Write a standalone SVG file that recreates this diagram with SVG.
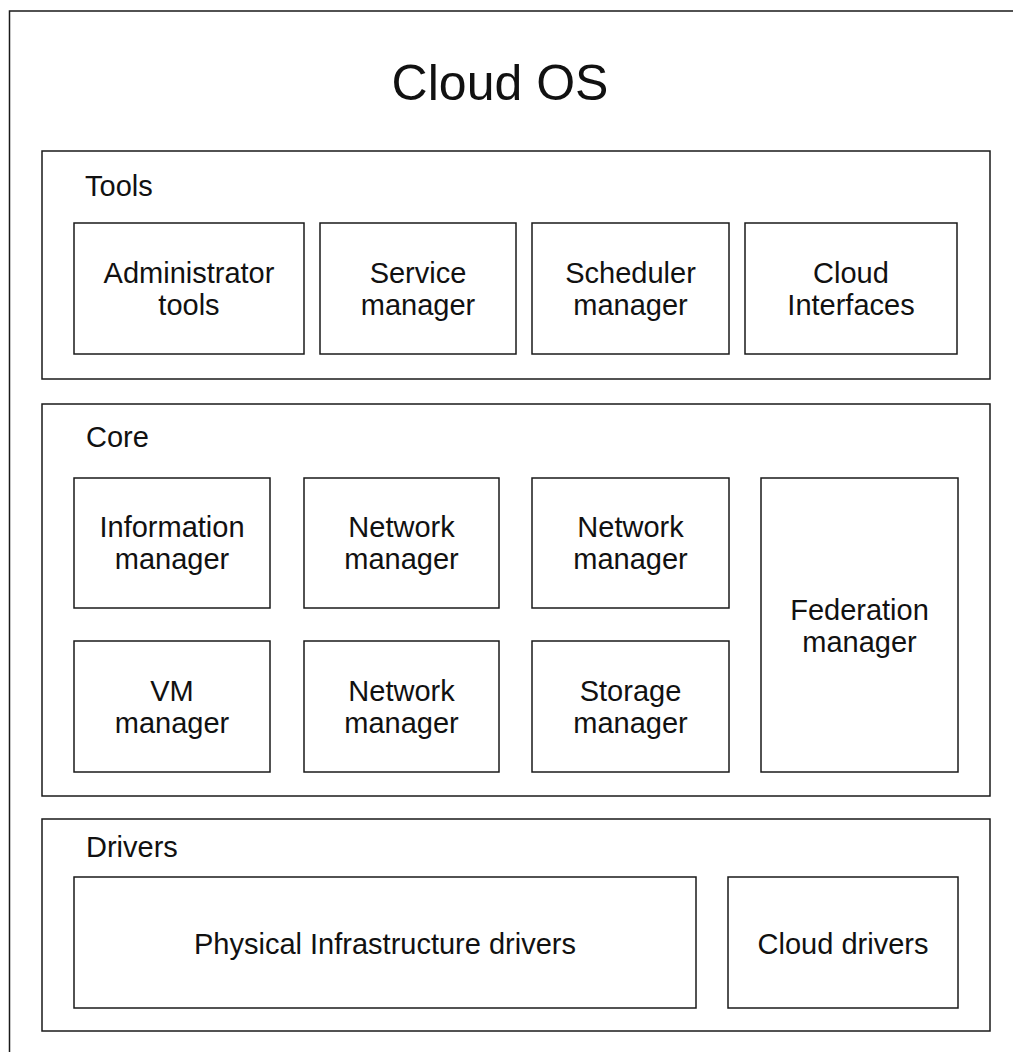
<svg xmlns="http://www.w3.org/2000/svg" width="1013" height="1052" viewBox="0 0 1013 1052">
  <style>
    .box { fill: #ffffff; stroke: #1a1a1a; stroke-width: 1.5; }
    .t { font-family: "Liberation Sans", Arial, Helvetica, sans-serif; font-size: 29px; fill: #111111; }
    .c { text-anchor: middle; }
    .title { font-family: "Liberation Sans", Arial, Helvetica, sans-serif; font-size: 50px; fill: #111111; text-anchor: middle; }
  </style>
  <rect x="0" y="0" width="1013" height="1052" fill="#ffffff"/>

  <g id="cloud-os">
    <rect class="box" x="9.5" y="11" width="1010" height="1050"/>
    <text class="title" x="500" y="100">Cloud OS</text>
  </g>

  <g id="tools">
    <rect class="box" x="42" y="151" width="948" height="228"/>
    <text class="t" x="85" y="196">Tools</text>
  </g>
  <g id="administrator-tools">
    <rect class="box" x="74" y="223" width="230" height="131"/>
    <text class="t c" x="189" y="282.5">Administrator</text>
    <text class="t c" x="189" y="314.5">tools</text>
  </g>
  <g id="service-manager">
    <rect class="box" x="320" y="223" width="196" height="131"/>
    <text class="t c" x="418" y="282.5">Service</text>
    <text class="t c" x="418" y="314.5">manager</text>
  </g>
  <g id="scheduler-manager">
    <rect class="box" x="532" y="223" width="197" height="131"/>
    <text class="t c" x="630.5" y="282.5">Scheduler</text>
    <text class="t c" x="630.5" y="314.5">manager</text>
  </g>
  <g id="cloud-interfaces">
    <rect class="box" x="745" y="223" width="212" height="131"/>
    <text class="t c" x="851" y="282.5">Cloud</text>
    <text class="t c" x="851" y="314.5">Interfaces</text>
  </g>

  <g id="core">
    <rect class="box" x="42" y="404" width="948" height="392"/>
    <text class="t" x="86" y="447">Core</text>
  </g>
  <g id="information-manager">
    <rect class="box" x="74" y="478" width="196" height="130"/>
    <text class="t c" x="172" y="537">Information</text>
    <text class="t c" x="172" y="569">manager</text>
  </g>
  <g id="network-manager-1">
    <rect class="box" x="304" y="478" width="195" height="130"/>
    <text class="t c" x="401.5" y="537">Network</text>
    <text class="t c" x="401.5" y="569">manager</text>
  </g>
  <g id="network-manager-2">
    <rect class="box" x="532" y="478" width="197" height="130"/>
    <text class="t c" x="630.5" y="537">Network</text>
    <text class="t c" x="630.5" y="569">manager</text>
  </g>
  <g id="federation-manager">
    <rect class="box" x="761" y="478" width="197" height="294"/>
    <text class="t c" x="859.5" y="620">Federation</text>
    <text class="t c" x="859.5" y="652">manager</text>
  </g>
  <g id="vm-manager">
    <rect class="box" x="74" y="641" width="196" height="131"/>
    <text class="t c" x="172" y="700.5">VM</text>
    <text class="t c" x="172" y="732.5">manager</text>
  </g>
  <g id="network-manager-3">
    <rect class="box" x="304" y="641" width="195" height="131"/>
    <text class="t c" x="401.5" y="700.5">Network</text>
    <text class="t c" x="401.5" y="732.5">manager</text>
  </g>
  <g id="storage-manager">
    <rect class="box" x="532" y="641" width="197" height="131"/>
    <text class="t c" x="630.5" y="700.5">Storage</text>
    <text class="t c" x="630.5" y="732.5">manager</text>
  </g>

  <g id="drivers">
    <rect class="box" x="42" y="819" width="948" height="212"/>
    <text class="t" x="86" y="857">Drivers</text>
  </g>
  <g id="physical-infrastructure-drivers">
    <rect class="box" x="74" y="877" width="622" height="131"/>
    <text class="t c" x="385" y="954">Physical Infrastructure drivers</text>
  </g>
  <g id="cloud-drivers">
    <rect class="box" x="728" y="877" width="230" height="131"/>
    <text class="t c" x="843" y="954">Cloud drivers</text>
  </g>

  <g id="connectors"/>
</svg>
